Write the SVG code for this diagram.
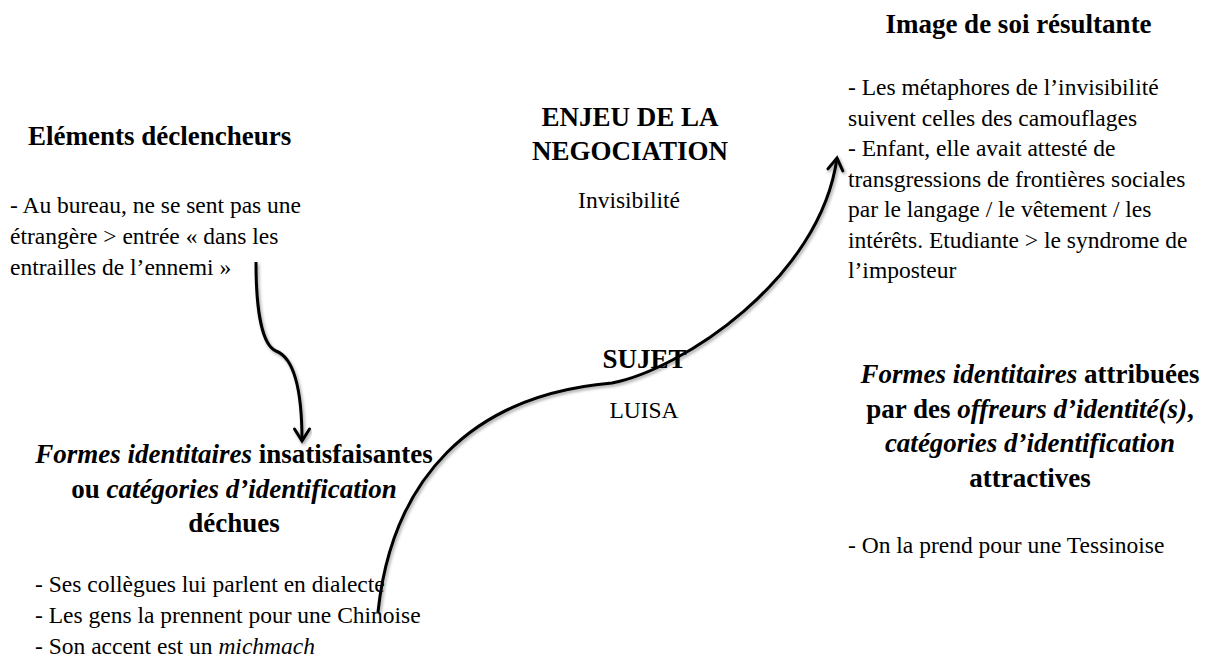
<svg xmlns="http://www.w3.org/2000/svg" width="1215" height="659" viewBox="0 0 1215 659">
<style>
text{font-family:"Liberation Serif","Times New Roman",serif;fill:#000}
.h{font-size:27px;font-weight:bold}
.b{font-size:23.5px}
.i{font-style:italic}
.c{text-anchor:middle}
.con{fill:none;stroke:#000;stroke-width:3;stroke-linecap:butt;filter:url(#sh)}
</style>
<defs>
<filter id="sh" x="-20%" y="-20%" width="140%" height="140%">
<feDropShadow dx="1.5" dy="2" stdDeviation="1.5" flood-color="#000" flood-opacity="0.35"/>
</filter>
<marker id="ah" markerUnits="userSpaceOnUse" viewBox="-14 -10 16 20" refX="0" refY="0" markerWidth="16" markerHeight="20" orient="auto" overflow="visible">
<path d="M-12,-7.5 L0,0 L-12,7.5" fill="none" stroke="#000" stroke-width="3" stroke-linejoin="miter" stroke-linecap="round"/>
</marker>
</defs>
<rect width="1215" height="659" fill="#fff"/>

<g id="connectors">
<path class="con" d="M256,262 C256,310 262,345 276,351 C292,357 302,385 302,441" marker-end="url(#ah)"/>
<path class="con" d="M622,338 L622,279" marker-end="url(#ah)"/>
<path class="con" d="M378,612 C392,480 470,395 612,383 C680,370 820,280 837,158" marker-end="url(#ah)"/>
</g>

<g id="elements-declencheurs">
<text class="h" x="28" y="145">Eléments déclencheurs</text>
<text class="b" x="10" y="213">- Au bureau, ne se sent pas une</text>
<text class="b" x="10" y="244">étrangère &gt; entrée « dans les</text>
<text class="b" x="10" y="275">entrailles de l’ennemi »</text>
</g>

<g id="enjeu">
<text class="h c" x="630" y="126">ENJEU DE LA</text>
<text class="h c" x="630" y="160">NEGOCIATION</text>
<text class="b c" x="629" y="208">Invisibilité</text>
</g>

<g id="sujet">
<text class="h c" x="644.5" y="368">SUJET</text>
<text class="b c" x="644" y="418">LUISA</text>
</g>

<g id="image-de-soi">
<text class="h c" x="1018.5" y="33">Image de soi résultante</text>
<text class="b" x="848" y="95">- Les métaphores de l’invisibilité</text>
<text class="b" x="848" y="125.5">suivent celles des camouflages</text>
<text class="b" x="848" y="156">- Enfant, elle avait attesté de</text>
<text class="b" x="848" y="186.5">transgressions de frontières sociales</text>
<text class="b" x="848" y="217">par le langage / le vêtement / les</text>
<text class="b" x="848" y="247.5">intérêts. Etudiante &gt; le syndrome de</text>
<text class="b" x="848" y="278">l’imposteur</text>
</g>

<g id="formes-insatisfaisantes">
<text class="h c" x="234" y="463"><tspan class="i">Formes identitaires</tspan> insatisfaisantes</text>
<text class="h c" x="234" y="497.5">ou <tspan class="i">catégories d’identification</tspan></text>
<text class="h c" x="234" y="532">déchues</text>
<text class="b" x="35" y="592">- Ses collègues lui parlent en dialecte</text>
<text class="b" x="35" y="623">- Les gens la prennent pour une Chinoise</text>
<text class="b" x="35" y="654">- Son accent est un <tspan class="i">michmach</tspan></text>
</g>

<g id="formes-attribuees">
<text class="h c" x="1030" y="383"><tspan class="i">Formes identitaires</tspan> attribuées</text>
<text class="h c" x="1030" y="417.5">par des <tspan class="i">offreurs d’identité(s)</tspan>,</text>
<text class="h c" x="1030" y="452"><tspan class="i">catégories d’identification</tspan></text>
<text class="h c" x="1030" y="486.5">attractives</text>
<text class="b" x="848" y="553">- On la prend pour une Tessinoise</text>
</g>
</svg>
